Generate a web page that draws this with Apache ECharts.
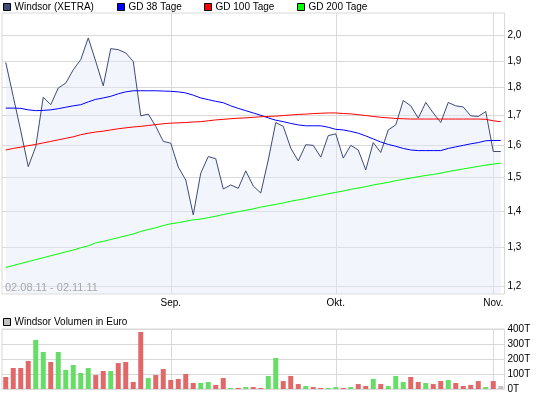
<!DOCTYPE html>
<html>
<head>
<meta charset="utf-8">
<script src="https://cdn.jsdelivr.net/npm/echarts@6.0.0/dist/echarts.min.js"></script>
<style>
    html, body { margin: 0; padding: 0; background: #fff; }
    #chart { width: 545px; height: 398px; }
</style>
</head>
<body>
<div id="chart"></div>
<script>
    // Handelstage 02.08.11 - 02.11.11
    var dates = [
        '02.08', '03.08', '04.08', '05.08', '08.08', '09.08', '10.08', '11.08', '12.08', '15.08', '16.08',
        '17.08', '18.08', '19.08', '22.08', '23.08', '24.08', '25.08', '26.08', '29.08', '30.08', '31.08',
        '01.09', '02.09', '05.09', '06.09', '07.09', '08.09', '09.09', '12.09', '13.09', '14.09', '15.09',
        '16.09', '19.09', '20.09', '21.09', '22.09', '23.09', '26.09', '27.09', '28.09', '29.09', '30.09',
        '03.10', '04.10', '05.10', '06.10', '07.10', '10.10', '11.10', '12.10', '13.10', '14.10', '17.10',
        '18.10', '19.10', '20.10', '21.10', '24.10', '25.10', '26.10', '27.10', '28.10', '31.10',
        '01.11', '02.11'
    ];
    var price = [
        1.894, 1.767, 1.648, 1.532, 1.596, 1.765, 1.738, 1.798, 1.816, 1.866, 1.905,
        1.991, 1.898, 1.806, 1.948, 1.944, 1.931, 1.898, 1.699, 1.705, 1.663, 1.613,
        1.607, 1.531, 1.491, 1.389, 1.512, 1.564, 1.557, 1.464, 1.476, 1.466, 1.519,
        1.473, 1.452, 1.553, 1.676, 1.663, 1.591, 1.550, 1.602, 1.600, 1.562, 1.632,
        1.638, 1.559, 1.600, 1.585, 1.522, 1.609, 1.577, 1.651, 1.668, 1.753, 1.734,
        1.691, 1.746, 1.709, 1.676, 1.746, 1.734, 1.730, 1.699, 1.697, 1.714,
        1.580, 1.580
    ];
    var gd38 = [
        1.726, 1.726, 1.725, 1.720, 1.717, 1.718, 1.720, 1.724, 1.729, 1.734, 1.738,
        1.748, 1.757, 1.762, 1.768, 1.777, 1.784, 1.788, 1.788, 1.788, 1.788, 1.787,
        1.786, 1.784, 1.780, 1.772, 1.762, 1.756, 1.750, 1.745, 1.734, 1.725, 1.717,
        1.709, 1.701, 1.692, 1.684, 1.679, 1.673, 1.668, 1.665, 1.665, 1.665, 1.660,
        1.653, 1.651, 1.646, 1.640, 1.631, 1.621, 1.611, 1.603, 1.597, 1.590, 1.585,
        1.583, 1.583, 1.583, 1.583, 1.590, 1.595, 1.600, 1.605, 1.609, 1.615,
        1.616, 1.616
    ];
    var gd100 = [
        1.585, 1.590, 1.594, 1.599, 1.603, 1.608, 1.613, 1.618, 1.623, 1.628, 1.635,
        1.640, 1.644, 1.647, 1.651, 1.655, 1.658, 1.661, 1.663, 1.666, 1.669, 1.672,
        1.674, 1.675, 1.676, 1.678, 1.679, 1.682, 1.685, 1.687, 1.689, 1.691, 1.692,
        1.694, 1.696, 1.697, 1.698, 1.700, 1.702, 1.704, 1.705, 1.707, 1.708, 1.709,
        1.709, 1.707, 1.706, 1.703, 1.700, 1.697, 1.694, 1.692, 1.690, 1.689, 1.688,
        1.688, 1.688, 1.688, 1.688, 1.688, 1.688, 1.688, 1.688, 1.688, 1.687,
        1.682, 1.679
    ];
    var gd200 = [
        1.248, 1.253, 1.258, 1.263, 1.268, 1.273, 1.278, 1.283, 1.288, 1.293, 1.299,
        1.304, 1.312, 1.316, 1.321, 1.326, 1.331, 1.336, 1.343, 1.348, 1.353, 1.359,
        1.364, 1.367, 1.371, 1.375, 1.377, 1.381, 1.385, 1.390, 1.394, 1.398, 1.402,
        1.406, 1.411, 1.415, 1.419, 1.423, 1.428, 1.432, 1.436, 1.441, 1.445, 1.450,
        1.454, 1.458, 1.463, 1.467, 1.471, 1.476, 1.480, 1.484, 1.489, 1.493, 1.497,
        1.501, 1.505, 1.508, 1.512, 1.517, 1.521, 1.525, 1.529, 1.533, 1.537,
        1.540, 1.543
    ];
    // Volumen in Euro
    var volume = [
        80000, 140000, 140000, 187000, 327000, 247000, 180000, 247000, 127000, 160000, 107000,
        140000, 93000, 120000, 120000, 173000, 180000, 47000, 380000, 73000, 93000, 133000,
        60000, 67000, 100000, 40000, 40000, 47000, 27000, 73000, 7000, 7000, 13000,
        13000, 7000, 87000, 207000, 53000, 87000, 33000, 20000, 13000, 7000, 7000,
        13000, 7000, 13000, 33000, 20000, 67000, 33000, 20000, 87000, 47000, 80000,
        47000, 40000, 33000, 53000, 60000, 40000, 20000, 27000, 53000, 13000,
        53000, 20000
    ];
    // 1 = gestiegen, -1 = gefallen, 0 = unverändert
    var volDir = [
        -1, -1, -1, -1, 1, 1, -1, 1, 1, 1, 1,
        1, -1, -1, 1, -1, -1, -1, -1, 1, -1, -1,
        -1, -1, -1, -1, 1, 1, -1, -1, 1, -1, 1,
        -1, -1, 1, 1, -1, -1, -1, 1, -1, -1, 1,
        1, -1, 1, -1, -1, 1, -1, 1, 1, 1, -1,
        -1, 1, -1, -1, 1, -1, -1, -1, -1, 1,
        -1, 0
    ];
    var monthLabels = { 22: 'Sep.', 44: 'Okt.', 65: 'Nov.' };
    var priceTicks = [1.2, 1.3, 1.4, 1.5, 1.6, 1.7, 1.8, 1.9, 2.0];
    var rangeText = '02.08.11 - 02.11.11';

    var gridColor = '#d9d9d9';
    var font = 'Liberation Sans, Arial, sans-serif';

    var monthLines = Object.keys(monthLabels).map(function (i) {
        return { xAxis: dates[i] };
    });
    var markLineStyle = {
        silent: true,
        symbol: 'none',
        z: 1,
        animation: false,
        label: { show: false },
        lineStyle: { color: gridColor, width: 1, type: 'solid' },
        emphasis: { disabled: true },
        data: monthLines
    };

    function legendAt(name, left, top) {
        return {
            data: [name],
            left: left,
            top: top,
            padding: 0,
            icon: 'rect',
            itemWidth: 7,
            itemHeight: 7,
            itemGap: 4,
            itemStyle: { borderColor: '#000', borderWidth: 1 },
            textStyle: { fontFamily: font, fontSize: 10, color: '#000', padding: [0, 0, 0, -1] },
            selectedMode: false
        };
    }

    var chart = echarts.init(document.getElementById('chart'));
    chart.setOption({
        animation: false,
        backgroundColor: '#fff',
        title: {
            text: rangeText,
            left: 5,
            top: 282,
            padding: 0,
            textStyle: { fontFamily: font, fontSize: 11, fontWeight: 'normal', color: '#a8a8a8' }
        },
        legend: [
            legendAt('Windsor (XETRA)', 3, 2),
            legendAt('GD 38 Tage', 117, 2),
            legendAt('GD 100 Tage', 204, 2),
            legendAt('GD 200 Tage', 297, 2),
            legendAt('Windsor Volumen in Euro', 3, 317)
        ],
        grid: [
            { left: 2, right: 40.5, top: 13, bottom: 104, show: true, borderColor: gridColor, borderWidth: 1, backgroundColor: 'transparent' },
            { left: 2, right: 40.5, top: 329, bottom: 9, show: true, borderColor: gridColor, borderWidth: 1, backgroundColor: 'transparent' }
        ],
        xAxis: [{
            type: 'category',
            gridIndex: 0,
            data: dates,
            boundaryGap: true,
            axisLine: { show: false },
            axisTick: { show: false },
            splitLine: { show: false },
            axisLabel: {
                interval: function (index) { return monthLabels[index] !== undefined; },
                formatter: function (v, index) { return monthLabels[index] || ''; },
                margin: 4,
                fontFamily: font,
                fontSize: 10,
                color: '#000'
            }
        }, {
            type: 'category',
            gridIndex: 1,
            data: dates,
            boundaryGap: true,
            axisLine: { show: false },
            axisTick: { show: false },
            axisLabel: { show: false },
            splitLine: { show: false }
        }],
        yAxis: [{
            type: 'log',
            gridIndex: 0,
            position: 'right',
            logBase: 10,
            min: 1.1823,
            max: 2.0946,
            axisLine: { show: false },
            axisTick: { show: false, customValues: priceTicks },
            splitLine: { show: true, lineStyle: { color: gridColor, width: 1 } },
            axisLabel: {
                customValues: priceTicks,
                margin: 3,
                fontFamily: font,
                fontSize: 10,
                color: '#000',
                formatter: function (v) { return v.toFixed(1).replace('.', ','); }
            }
        }, {
            type: 'value',
            gridIndex: 1,
            position: 'right',
            min: 0,
            max: 400000,
            interval: 100000,
            axisLine: { show: false },
            axisTick: { show: false },
            splitLine: { show: true, lineStyle: { color: gridColor, width: 1 } },
            axisLabel: {
                margin: 3,
                fontFamily: font,
                fontSize: 10,
                color: '#000',
                formatter: function (v) { return (v / 1000) + 'T'; }
            }
        }],
        series: [{
            name: 'Windsor (XETRA)',
            type: 'line',
            xAxisIndex: 0,
            yAxisIndex: 0,
            data: price,
            symbol: 'none',
            color: '#3d4c78',
            lineStyle: { color: '#3d4c78', width: 1 },
            areaStyle: { color: 'rgba(226,232,248,0.62)', origin: 'start' },
            markLine: markLineStyle,
            z: 2
        }, {
            name: 'GD 38 Tage',
            type: 'line',
            data: gd38,
            symbol: 'none',
            color: '#0000ff',
            lineStyle: { color: '#0000ff', width: 1 },
            z: 3
        }, {
            name: 'GD 100 Tage',
            type: 'line',
            data: gd100,
            symbol: 'none',
            color: '#ff0000',
            lineStyle: { color: '#ff0000', width: 1 },
            z: 3
        }, {
            name: 'GD 200 Tage',
            type: 'line',
            data: gd200,
            symbol: 'none',
            color: '#00ff00',
            lineStyle: { color: '#00ff00', width: 1 },
            z: 3
        }, {
            name: 'Windsor Volumen in Euro',
            type: 'bar',
            xAxisIndex: 1,
            yAxisIndex: 1,
            data: volume,
            barWidth: 5,
            color: '#c0c0c0',
            itemStyle: {
                color: function (p) {
                    var d = volDir[p.dataIndex];
                    return d > 0 ? '#66dd66' : (d < 0 ? '#e06868' : '#c0c0c0');
                }
            },
            markLine: markLineStyle
        }]
    });
</script>
</body>
</html>
